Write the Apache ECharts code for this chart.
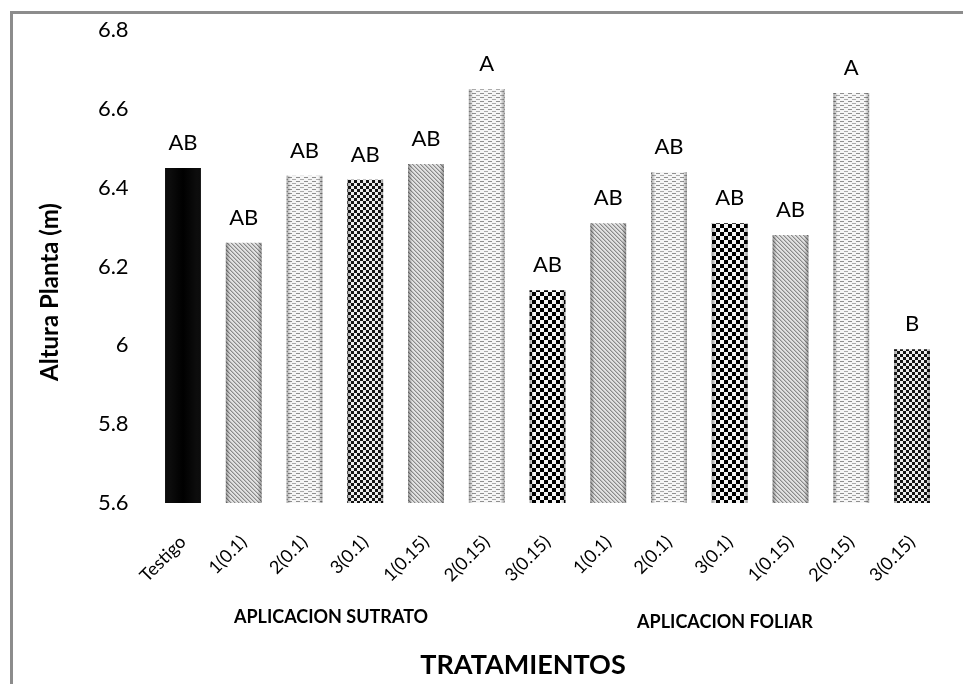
<!DOCTYPE html>
<html>
<head>
<meta charset="utf-8">
<script src="https://cdn.jsdelivr.net/npm/echarts@6/dist/echarts.min.js"></script>
<style>
  html, body { margin: 0; padding: 0; background: #fff; }
  #chart { width: 963px; height: 684px; }
</style>
</head>
<body>
<div id="chart"></div>
<script>
// ---- data ----
const categories = ['Testigo', '1(0.1)', '2(0.1)', '3(0.1)', '1(0.15)', '2(0.15)', '3(0.15)',
                    '1(0.1)', '2(0.1)', '3(0.1)', '1(0.15)', '2(0.15)', '3(0.15)'];
const alturaValues = [6.45, 6.26, 6.43, 6.42, 6.46, 6.65, 6.14, 6.31, 6.44, 6.31, 6.28, 6.64, 5.99];
const significance = ['AB', 'AB', 'AB', 'AB', 'AB', 'A', 'AB', 'AB', 'AB', 'AB', 'AB', 'A', 'B'];
const yTicks = [5.6, 5.8, 6.0, 6.2, 6.4, 6.6, 6.8];
const groupLabels = ['APLICACION SUTRATO', 'APLICACION FOLIAR'];
const xTitle = 'TRATAMIENTOS';
const yTitle = 'Altura Planta (m)';

// ---- styles (fill kind per bar) ----
const fillKinds = ['solid', 'diag', 'dash', 'checkS', 'diag', 'dash', 'checkL',
                   'diag', 'dash', 'checkL', 'diag', 'dash', 'checkS'];

function makeCanvas(w, h, draw) {
  const c = document.createElement('canvas');
  c.width = w; c.height = h;
  draw(c.getContext('2d'));
  return c;
}
const patterns = {
  diag: makeCanvas(4, 4, ctx => {
    ctx.fillStyle = '#e2e2e2'; ctx.fillRect(0, 0, 4, 4);
    ctx.fillStyle = '#8a8a8a';
    for (let i = 0; i < 4; i++) ctx.fillRect(i, i, 1, 1);
    ctx.fillStyle = '#bdbdbd';
    for (let i = 0; i < 4; i++) ctx.fillRect((i + 1) % 4, i, 1, 1);
  }),
  dash: makeCanvas(8, 4, ctx => {
    ctx.fillStyle = '#f6f6f6'; ctx.fillRect(0, 0, 8, 4);
    ctx.fillStyle = '#8f8f8f';
    ctx.fillRect(0, 1, 4, 1);
    ctx.fillStyle = '#aaaaaa';
    ctx.fillRect(4, 3, 4, 1);
  }),
  checkS: makeCanvas(6, 6, ctx => {
    ctx.fillStyle = '#eeeeee'; ctx.fillRect(0, 0, 6, 6);
    ctx.fillStyle = '#151515';
    ctx.fillRect(0, 0, 3, 3); ctx.fillRect(3, 3, 3, 3);
  }),
  checkL: makeCanvas(8, 8, ctx => {
    ctx.fillStyle = '#f5f5f5'; ctx.fillRect(0, 0, 8, 8);
    ctx.fillStyle = '#000';
    ctx.fillRect(0, 0, 4, 4); ctx.fillRect(4, 4, 4, 4);
  })
};
function fillFor(kind) {
  if (kind === 'solid') {
    return { type: 'linear', x: 0, y: 0, x2: 1, y2: 0,
      colorStops: [{ offset: 0, color: '#111' }, { offset: 0.5, color: '#000' }, { offset: 1, color: '#111' }] };
  }
  return { image: patterns[kind], repeat: 'repeat' };
}

const seriesData = alturaValues.map((v, i) => ({
  value: v,
  itemStyle: { color: fillFor(fillKinds[i]) },
  label: { formatter: significance[i] }
}));

const chart = echarts.init(document.getElementById('chart'), null, { renderer: 'canvas' });
const FONT = 'Lato, "Open Sans", sans-serif';

chart.setOption({
  backgroundColor: '#fff',
  animation: false,
  grid: { left: 152.6, right: 20.6, top: 30, bottom: 181, containLabel: false },
  xAxis: {
    type: 'category',
    data: categories,
    axisLine: { show: false },
    axisTick: { show: false },
    axisLabel: { rotate: 45, margin: 36, fontSize: 18, color: '#000', fontFamily: FONT, interval: 0 }
  },
  yAxis: {
    type: 'value',
    min: yTicks[0],
    max: yTicks[yTicks.length - 1],
    interval: 0.2,
    axisLine: { show: false },
    axisTick: { show: false },
    splitLine: { show: false },
    axisLabel: {
      margin: 24, fontSize: 22, color: '#000', fontFamily: FONT,
      formatter: v => String(+v.toFixed(1))
    }
  },
  series: [{
    type: 'bar',
    data: seriesData,
    barWidth: '59%',
    label: { show: true, position: 'top', distance: 14, fontSize: 22, color: '#000', fontFamily: FONT }
  }, {
    type: 'bar',
    data: alturaValues,
    barWidth: '59%',
    barGap: '-100%',
    silent: true,
    itemStyle: {
      color: { type: 'linear', x: 0, y: 0, x2: 1, y2: 0,
        colorStops: [
          { offset: 0, color: 'rgba(0,0,0,0.35)' },
          { offset: 0.12, color: 'rgba(0,0,0,0)' },
          { offset: 0.88, color: 'rgba(0,0,0,0)' },
          { offset: 1, color: 'rgba(0,0,0,0.35)' }
        ] }
    }
  }],
  graphic: [
    { type: 'rect', shape: { x: 10, y: 11, width: 3, height: 700 }, style: { fill: '#8c8c8c' }, silent: true },
    { type: 'rect', shape: { x: 10, y: 11, width: 1000, height: 3 }, style: { fill: '#8c8c8c' }, silent: true },
    { type: 'text', x: 50, y: 292, rotation: Math.PI / 2,
      style: { text: yTitle, font: 'bold 24px ' + FONT, fill: '#000', textAlign: 'center', textVerticalAlign: 'middle' } },
    { type: 'text', x: 331, y: 617, style: { text: groupLabels[0], font: 'bold 18px ' + FONT, fill: '#000', textAlign: 'center', textVerticalAlign: 'middle' } },
    { type: 'text', x: 725, y: 622, style: { text: groupLabels[1], font: 'bold 18px ' + FONT, fill: '#000', textAlign: 'center', textVerticalAlign: 'middle' } },
    { type: 'text', x: 523, y: 665, style: { text: xTitle, font: 'bold 27px ' + FONT, fill: '#000', textAlign: 'center', textVerticalAlign: 'middle' } }
  ]
});
</script>
</body>
</html>
